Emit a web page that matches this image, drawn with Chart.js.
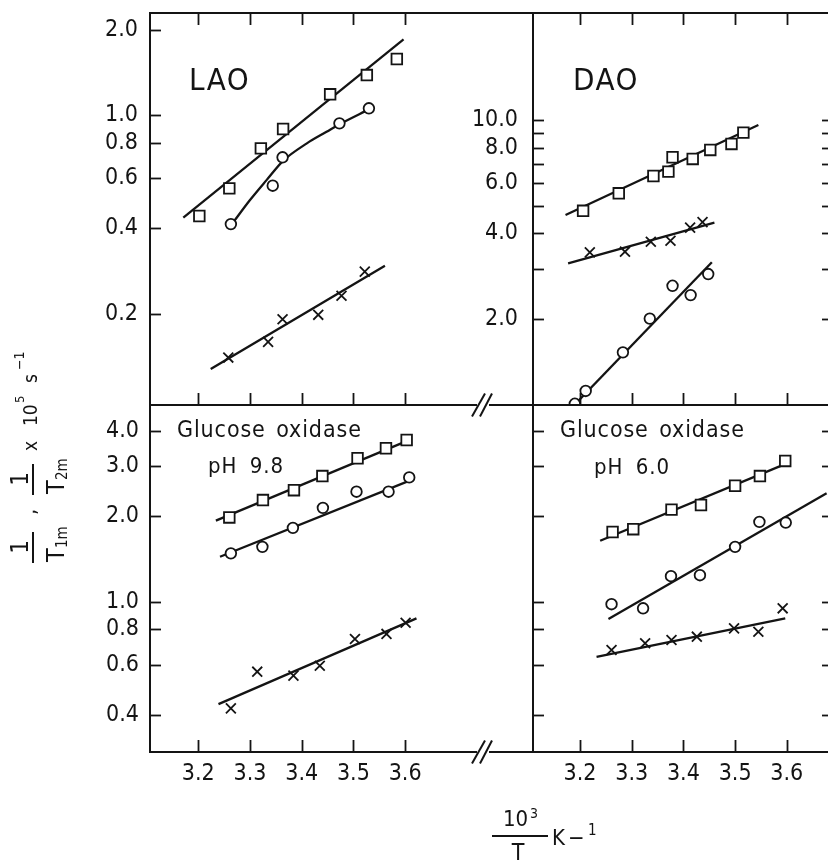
<!DOCTYPE html>
<html><head><meta charset="utf-8">
<script src="https://cdn.jsdelivr.net/npm/chart.js@4.4.1/dist/chart.umd.min.js"></script>
<style>
html,body{margin:0;padding:0;width:828px;height:862px;overflow:hidden;background:#fff;}
body{position:relative;font-family:"Liberation Sans Narrow","DejaVu Sans Condensed","Arial Narrow",sans-serif;color:#141414;}
canvas{position:absolute;}
.t{position:absolute;white-space:nowrap;line-height:1;}
.bar{position:absolute;background:#141414;}
#yt{position:absolute;left:0;top:565px;width:240px;height:80px;transform-origin:0 0;transform:rotate(-90deg);}
</style></head><body>
<canvas id="cTL" width="540" height="420" style="left:0;top:0"></canvas>
<canvas id="cTR" width="400" height="420" style="left:440px;top:0"></canvas>
<canvas id="cBL" width="540" height="467" style="left:0;top:395px"></canvas>
<canvas id="cBR" width="400" height="467" style="left:440px;top:395px"></canvas>
<div id="txt"></div>
<div id="yt"></div>
<script>
// ---------- data ----------
const xTickVals = [3.2, 3.3, 3.4, 3.5, 3.6];
const laoTicks = [0.2, 0.4, 0.6, 0.8, 1.0, 2.0];
const daoTicks = [2, 3, 4, 5, 6, 7, 8, 9, 10];
const daoLabels = [2, 4, 6, 8, 10];
const goxTicks = [0.4, 0.6, 0.8, 1.0, 2.0, 3.0, 4.0];

// LAO
const laoSqX = [3.202, 3.260, 3.321, 3.364, 3.455, 3.526, 3.584];
const laoSqY = [0.441, 0.552, 0.763, 0.893, 1.183, 1.383, 1.575];
const laoSqFitX = [3.171, 3.597];
const laoSqFitY = [0.435, 1.847];
const laoCiX = [3.263, 3.344, 3.363, 3.473, 3.530];
const laoCiY = [0.413, 0.564, 0.710, 0.935, 1.056];
const laoCiCurveX = [3.265, 3.300, 3.332, 3.364, 3.410, 3.448, 3.474, 3.530];
const laoCiCurveY = [0.413, 0.502, 0.590, 0.690, 0.795, 0.873, 0.930, 1.047];
const laoCrX = [3.258, 3.335, 3.363, 3.432, 3.477, 3.522];
const laoCrY = [0.140, 0.159, 0.191, 0.198, 0.231, 0.281];
const laoCrFitX = [3.224, 3.561];
const laoCrFitY = [0.1275, 0.2946];

// DAO
const daoSqX = [3.206, 3.275, 3.342, 3.371, 3.379, 3.418, 3.452, 3.493, 3.516];
const daoSqY = [4.80, 5.53, 6.36, 6.59, 7.40, 7.30, 7.85, 8.24, 9.03];
const daoSqFitX = [3.172, 3.545];
const daoSqFitY = [4.64, 9.60];
const daoCrX = [3.219, 3.287, 3.337, 3.375, 3.413, 3.437];
const daoCrY = [3.43, 3.45, 3.74, 3.77, 4.19, 4.38];
const daoCrFitX = [3.177, 3.460];
const daoCrFitY = [3.14, 4.36];
const daoCiX = [3.190, 3.211, 3.283, 3.335, 3.379, 3.414, 3.448];
const daoCiY = [1.01, 1.12, 1.53, 2.01, 2.62, 2.43, 2.88];
const daoCiFitX = [3.183, 3.455];
const daoCiFitY = [0.974, 3.17];

// Glucose oxidase pH 9.8
const g98SqX = [3.260, 3.325, 3.385, 3.440, 3.508, 3.563, 3.603];
const g98SqY = [1.98, 2.28, 2.47, 2.77, 3.20, 3.47, 3.71];
const g98SqFitX = [3.234, 3.611];
const g98SqFitY = [1.93, 3.73];
const g98CiX = [3.263, 3.324, 3.383, 3.441, 3.506, 3.568, 3.608];
const g98CiY = [1.48, 1.56, 1.82, 2.14, 2.44, 2.44, 2.74];
const g98CiFitX = [3.242, 3.616];
const g98CiFitY = [1.44, 2.70];
const g98CrX = [3.263, 3.314, 3.384, 3.435, 3.503, 3.564, 3.601];
const g98CrY = [0.421, 0.567, 0.549, 0.595, 0.739, 0.770, 0.843];
const g98CrFitX = [3.239, 3.622];
const g98CrFitY = [0.436, 0.874];

// Glucose oxidase pH 6.0
const g60SqX = [3.263, 3.303, 3.377, 3.434, 3.500, 3.548, 3.597];
const g60SqY = [1.76, 1.80, 2.11, 2.19, 2.56, 2.77, 3.13];
const g60SqFitX = [3.239, 3.600];
const g60SqFitY = [1.64, 3.07];
const g60CiX = [3.261, 3.322, 3.376, 3.432, 3.500, 3.547, 3.598];
const g60CiY = [0.980, 0.948, 1.23, 1.24, 1.56, 1.91, 1.90];
const g60CiFitX = [3.255, 3.677];
const g60CiFitY = [0.869, 2.41];
const g60CrX = [3.261, 3.326, 3.377, 3.426, 3.498, 3.545, 3.592];
const g60CrY = [0.676, 0.714, 0.733, 0.753, 0.806, 0.784, 0.948];
const g60CrFitX = [3.232, 3.597];
const g60CrFitY = [0.640, 0.874];

// ---------- style ----------
const INK = '#141414';
const FONT = '"Liberation Sans Narrow","DejaVu Sans Condensed","Arial Narrow",sans-serif';
Chart.defaults.font.family = FONT;
Chart.defaults.color = INK;

function pts(xs, ys) { return xs.map((x, i) => ({x: x, y: ys[i]})); }
function markers(xs, ys, style, r) {
  return {data: pts(xs, ys), showLine: false, pointStyle: style, pointRadius: r,
    pointBorderWidth: 1.8, pointBorderColor: INK, pointBackgroundColor: '#fff', order: 0};
}
function fit(xs, ys, curve) {
  return {data: pts(xs, ys), showLine: true, borderColor: INK, borderWidth: 2.3,
    pointRadius: 0, tension: curve ? 0.4 : 0, cubicInterpolationMode: curve ? 'monotone' : 'default', order: 1};
}
function trio(sqX, sqY, ciX, ciY, crX, crY) {
  return [markers(sqX, sqY, 'rect', 7.5), markers(ciX, ciY, 'circle', 5.3), markers(crX, crY, 'crossRot', 7)];
}

const framePlugin = {
  id: 'panelFrame',
  afterDatasetsDraw(chart, args, o) {
    const ctx = chart.ctx, a = chart.chartArea;
    const xs = chart.scales.x, ys = chart.scales.y;
    ctx.save();
    ctx.strokeStyle = INK; ctx.lineCap = 'butt';
    const line = (x1, y1, x2, y2, w) => { ctx.lineWidth = w; ctx.beginPath(); ctx.moveTo(x1, y1); ctx.lineTo(x2, y2); ctx.stroke(); };
    const L = a.left, R = a.right, Tp = a.top, B = a.bottom;
    const hEdge = (y, brk, slashes) => {
      if (brk == null) { line(L - 1, y, R + 1, y, 2); return; }
      const c = xs.getPixelForValue(brk);
      line(L - 1, y, c - 5, y, 2); line(c + 7, y, R + 1, y, 2);
      if (slashes) { line(c - 10, y + 11.5, c + 3, y - 11.5, 2); line(c - 2, y + 11.5, c + 10, y - 11.5, 2); }
    };
    hEdge(Tp, o.breakTop, o.slashTop);
    hEdge(B, o.breakBottom, o.slashBottom);
    line(L, Tp - 1, L, B + 1, 2); line(R, Tp - 1, R, B + 1, 2);
    for (const v of o.yTicks) {
      const p = Math.round(ys.getPixelForValue(v)) + 0.5;
      if (o.yLeft) line(L, p, L + 11, p, 1.8);
      if (o.yRight) line(R, p, R - 11, p, 1.8);
    }
    for (const v of xTickVals) {
      const p = Math.round(xs.getPixelForValue(v)) + 0.5;
      if (o.xTop) line(p, Tp, p, Tp + 12, 1.8);
      if (o.xBottom) line(p, B, p, B - 12, 1.8);
    }
    ctx.restore();
  }
};

function panel(id, c) {
  return new Chart(document.getElementById(id), {
    type: 'scatter',
    data: {datasets: c.datasets},
    options: {
      responsive: false, animation: false, events: [],
      layout: {padding: c.pad, autoPadding: false},
      plugins: {legend: {display: false}, tooltip: {enabled: false}, panelFrame: c.frame},
      scales: {
        x: {type: 'linear', min: c.xMin, max: c.xMax, display: c.xShow,
          afterBuildTicks: s => { s.ticks = xTickVals.map(v => ({value: v})); },
          afterFit: s => { if (c.xShow) s.height = c.xH; s.paddingLeft = 0; s.paddingRight = 0; },
          ticks: {callback: v => v.toFixed(1), padding: 8, font: {size: 23}, color: INK, maxRotation: 0, minRotation: 0, autoSkip: false},
          grid: {display: false, drawTicks: false}, border: {display: false}},
        y: {type: 'logarithmic', min: c.yMin, max: c.yMax, display: true,
          afterBuildTicks: s => { s.ticks = c.yTicks.map(v => ({value: v})); },
          afterFit: s => { s.width = c.yW; s.paddingTop = 0; s.paddingBottom = 0; },
          ticks: {display: c.yLabShow, callback: v => (c.yLab.includes(v) ? v.toFixed(1) : ''),
            padding: c.yPad, font: {size: 23}, color: INK, autoSkip: false},
          grid: {display: false, drawTicks: false}, border: {display: false}}
      }
    },
    plugins: [framePlugin]
  });
}

const LX = {min: 3.2 - (198.3 - 150) / 517, max: 3.2 + (533 - 198.3) / 517};
const RX = {min: 3.2 - (580 - 533) / 517, max: 3.2 + (833 - 580) / 517};
const BRK = 3.2 + (482 - 198.3) / 517;

panel('cTL', {
  datasets: trio(laoSqX, laoSqY, laoCiX, laoCiY, laoCrX, laoCrY).concat([
    fit(laoSqFitX, laoSqFitY), fit(laoCiCurveX, laoCiCurveY, true), fit(laoCrFitX, laoCrFitY)]),
  pad: {left: 0, top: 13, right: 7, bottom: 15},
  xMin: LX.min, xMax: LX.max, xShow: false,
  yMin: 0.0953, yMax: 2.287, yTicks: laoTicks, yLab: laoTicks, yLabShow: true, yW: 150, yPad: 12,
  frame: {yTicks: laoTicks, yLeft: true, yRight: false, xTop: true, xBottom: true, breakBottom: BRK, slashBottom: true}
});
panel('cTR', {
  datasets: trio(daoSqX, daoSqY, daoCiX, daoCiY, daoCrX, daoCrY).concat([
    fit(daoSqFitX, daoSqFitY), fit(daoCiFitX, daoCiFitY), fit(daoCrFitX, daoCrFitY)]),
  pad: {left: 0, top: 13, right: 7, bottom: 15},
  xMin: RX.min, xMax: RX.max, xShow: false,
  yMin: 1.0, yMax: 23.73, yTicks: daoTicks, yLab: daoLabels, yLabShow: true, yW: 93, yPad: 15,
  frame: {yTicks: daoTicks, yLeft: true, yRight: true, xTop: true, xBottom: true}
});
panel('cBL', {
  datasets: trio(g98SqX, g98SqY, g98CiX, g98CiY, g98CrX, g98CrY).concat([
    fit(g98SqFitX, g98SqFitY), fit(g98CiFitX, g98CiFitY), fit(g98CrFitX, g98CrFitY)]),
  pad: {left: 0, top: 10, right: 7, bottom: 50},
  xMin: LX.min, xMax: LX.max, xShow: true, xH: 60,
  yMin: 0.2957, yMax: 4.927, yTicks: goxTicks, yLab: goxTicks, yLabShow: true, yW: 150, yPad: 11,
  frame: {yTicks: goxTicks, yLeft: true, yRight: false, xTop: false, xBottom: true, breakTop: BRK, slashTop: false, breakBottom: BRK, slashBottom: true}
});
panel('cBR', {
  datasets: trio(g60SqX, g60SqY, g60CiX, g60CiY, g60CrX, g60CrY).concat([
    fit(g60SqFitX, g60SqFitY), fit(g60CiFitX, g60CiFitY), fit(g60CrFitX, g60CrFitY)]),
  pad: {left: 0, top: 10, right: 7, bottom: 50},
  xMin: RX.min, xMax: RX.max, xShow: true, xH: 60,
  yMin: 0.2957, yMax: 4.927, yTicks: goxTicks, yLab: goxTicks, yLabShow: false, yW: 93, yPad: 11,
  frame: {yTicks: goxTicks, yLeft: true, yRight: true, xTop: false, xBottom: true}
});

// ---------- text ----------
function label(parent, text, x, base, size, o) {
  o = o || {};
  const s = document.createElement('span');
  s.className = 't'; s.textContent = text;
  s.style.fontSize = size + 'px';
  s.style.top = (base - size * 0.8465) + 'px';
  s.style.left = x + 'px';
  if (o.center) s.style.transform = 'translateX(-50%)';
  if (o.ls) s.style.letterSpacing = o.ls + 'px';
  if (o.ws) s.style.wordSpacing = o.ws + 'px';
  parent.appendChild(s);
}
function bar(parent, x, y, w, h) {
  const d = document.createElement('div');
  d.className = 'bar';
  d.style.left = x + 'px'; d.style.top = y + 'px'; d.style.width = w + 'px'; d.style.height = h + 'px';
  parent.appendChild(d);
}
const T = document.getElementById('txt');
label(T, 'LAO', 189, 90, 31, {ls: 1.5});
label(T, 'DAO', 573, 90, 31, {ls: 1.5});
label(T, 'Glucose oxidase', 177, 437, 23, {ls: 0.9, ws: 3});
label(T, 'pH 9.8', 208, 474, 22, {ls: 1, ws: 5});
label(T, 'Glucose oxidase', 560, 437, 23, {ls: 0.9, ws: 3});
label(T, 'pH 6.0', 594, 475, 22, {ls: 1, ws: 5});
// x-axis title
label(T, '10', 503, 827, 22);
label(T, '3', 530, 818, 14);
bar(T, 492, 835, 56, 1.6);
label(T, 'T', 518, 860, 23, {center: true});
label(T, 'K', 552, 846, 22);
label(T, '\u2212', 568, 846, 22);
label(T, '1', 588, 836, 15);
// y-axis title (rotated)
const Y = document.getElementById('yt');
bar(Y, 2, 32, 31, 2);
label(Y, '1', 18, 28, 24, {center: true});
label(Y, 'T', 3, 64, 25);
label(Y, '1m', 17, 68, 15);
label(Y, ',', 50, 37, 22);
bar(Y, 70, 32, 31, 2);
label(Y, '1', 86, 28, 24, {center: true});
label(Y, 'T', 71, 64, 25);
label(Y, '2m', 85, 68, 15);
label(Y, 'x', 114, 37, 19);
label(Y, '10', 139, 37, 19);
label(Y, '5', 162, 24, 13);
label(Y, 's', 182, 37, 19);
label(Y, '\u22121', 195, 24, 14);
</script>
</body></html>
